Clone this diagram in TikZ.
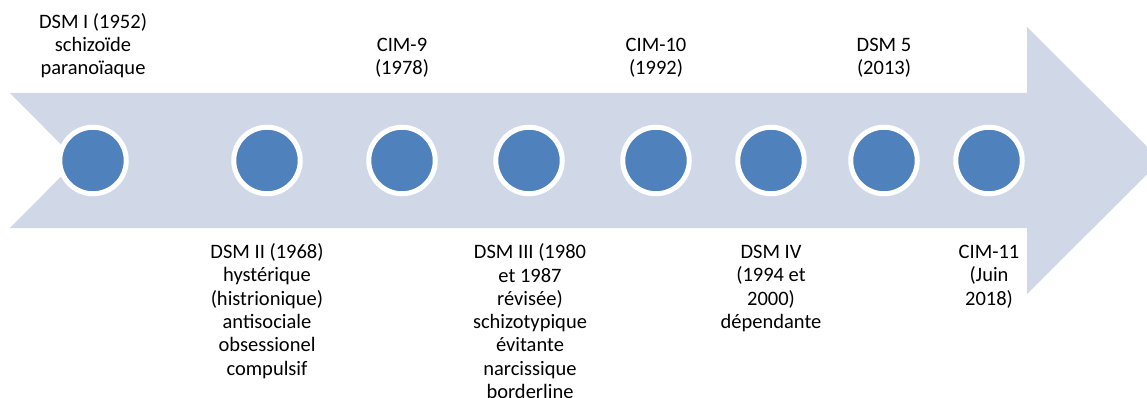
\documentclass[tikz,border=0pt]{standalone}
\usepackage{fontspec}
\setmainfont{Carlito}
\definecolor{arrowfill}{HTML}{D0D8E8}
\definecolor{dotblue}{HTML}{4F81BD}
\begin{document}
\begin{tikzpicture}[x=1pt,y=-1pt,
  dot/.style={circle, fill=dotblue, draw=white, line width=5pt, minimum size=66.5pt, inner sep=0pt},
  lbl/.style={align=center, font=\fontsize{20.5}{23.3}\selectfont, inner sep=0pt, anchor=base}]
\useasboundingbox (0,0) rectangle (1147,398);
\clip (0,0) rectangle (1147,398);
% arrow
\fill[arrowfill] (10,93) -- (1027,93) -- (1027,27) -- (1161,160.5) -- (1027,294) -- (1027,228) -- (10,228) -- (77,160.5) -- cycle;
% dots
\node[dot] (d1) at (93,160.5) {};
\node[dot] (d2) at (267,160.5) {};
\node[dot] (d3) at (402,160.5) {};
\node[dot] (d4) at (529,160.5) {};
\node[dot] (d5) at (656,160.5) {};
\node[dot] (d6) at (771,160.5) {};
\node[dot] (d7) at (884,160.5) {};
\node[dot] (d8) at (989,160.5) {};
% top labels (anchor = baseline of last line)
\node[lbl] (t1) at (93,75) {DSM I (1952)\\schizoïde\\paranoïaque};
\node[lbl] (t3) at (402,75) {CIM-9\\(1978)};
\node[lbl] (t5) at (656,75) {CIM-10\\(1992)};
\node[lbl] (t7) at (884,75) {DSM 5\\(2013)};
% bottom labels (first baseline at about 258.5)
\node[lbl] (b2) at (267,375) {DSM II (1968)\\hystérique\\(histrionique)\\antisociale\\obsessionel\\compulsif};
\node[lbl] (b4) at (530,398.5) {DSM III (1980\\et 1987\\révisée)\\schizotypique\\évitante\\narcissique\\borderline};
\node[lbl] (b6) at (771,328.5) {DSM IV\\(1994 et\\2000)\\dépendante};
\node[lbl] (b8) at (989,305) {CIM-11\\(Juin\\2018)};
\end{tikzpicture}
\end{document}
